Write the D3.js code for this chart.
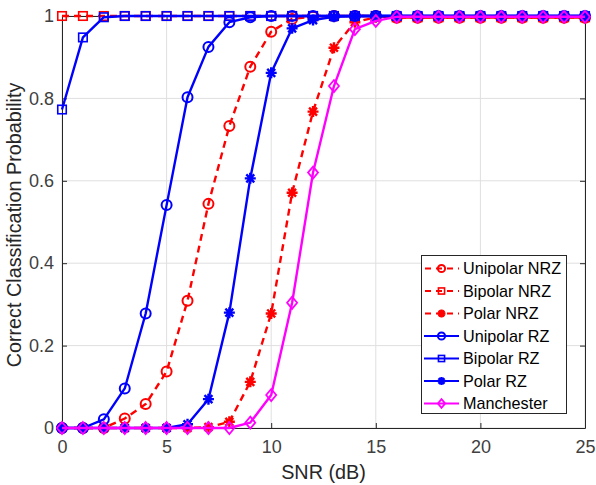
<!DOCTYPE html>
<html><head><meta charset="utf-8">
<script src="https://cdn.jsdelivr.net/npm/d3@7"></script>
<style>body{margin:0;background:#fff}svg{display:block;font-family:"Liberation Sans",Arial,sans-serif}</style>
</head><body><svg id="c" width="596" height="485"></svg>
<script>
const snr = [0,1,2,3,4,5,6,7,8,9,10,11,12,13,14,15,16,17,18,19,20,21,22,23,24,25];
const unipolarNRZ = [0,0,0,0.023,0.058,0.137,0.309,0.544,0.733,0.877,0.962,0.993,0.998,1,1,1,0.996,0.996,0.996,0.996,0.996,0.996,0.996,0.996,0.996,0.996];
const bipolarNRZ  = [1,1,1,1,1,1,1,1,1,1,1,1,1,1,1,1,0.997,0.997,0.997,0.997,0.997,0.997,0.997,0.997,0.997,0.997];
const polarNRZ    = [0,0,0,0,0,0,0,0.002,0.015,0.112,0.278,0.571,0.768,0.923,0.985,0.997,0.996,0.996,0.996,0.996,0.996,0.996,0.996,0.996,0.996,0.996];
const unipolarRZ  = [0,0,0.021,0.096,0.278,0.541,0.803,0.925,0.985,0.997,1,1,1,1,1,1,1,1,1,1,1,1,1,1,1,1];
const bipolarRZ   = [0.773,0.948,0.997,1,1,1,1,1,1,1,1,1,1,1,1,1,1,1,1,1,1,1,1,1,1,1];
const polarRZ     = [0,0,0,0,0,0,0.009,0.07,0.28,0.606,0.862,0.970,0.99,0.998,1,1,1,1,1,1,1,1,1,1,1,1];
const manchester  = [0,0,0,0,0,0,0,0,0,0.013,0.08,0.304,0.62,0.83,0.968,0.988,0.998,0.998,0.998,0.998,0.998,0.998,0.998,0.998,0.998,0.998];
const seriesNames = ["Unipolar NRZ","Bipolar NRZ","Polar NRZ","Unipolar RZ","Bipolar RZ","Polar RZ","Manchester"];
const xTicks = [0,5,10,15,20,25];
const yTicks = [0,0.2,0.4,0.6,0.8,1];
const xLabel = "SNR (dB)";
const yLabel = "Correct Classification Probability";

const series = [
  {name:seriesNames[0], v:unipolarNRZ, color:"#ff0000", dash:"7,5", marker:"circle"},
  {name:seriesNames[1], v:bipolarNRZ,  color:"#ff0000", dash:"7,5", marker:"square"},
  {name:seriesNames[2], v:polarNRZ,    color:"#ff0000", dash:"7,5", marker:"star"},
  {name:seriesNames[3], v:unipolarRZ,  color:"#0000ff", dash:null, marker:"circle"},
  {name:seriesNames[4], v:bipolarRZ,   color:"#0000ff", dash:null, marker:"square"},
  {name:seriesNames[5], v:polarRZ,     color:"#0000ff", dash:null, marker:"star"},
  {name:seriesNames[6], v:manchester,  color:"#ff00ff", dash:null, marker:"diamond"}
];

const L=62,R=585,T=16,B=428;
const svg=d3.select("#c");
const x=d3.scaleLinear().domain([0,25]).range([L,R]);
const y=d3.scaleLinear().domain([0,1]).range([B,T]);
const axisColor="#262626", tickText="#404040";

// grid
const g=svg.append("g");
g.selectAll(".gx").data(xTicks).enter().append("line")
 .attr("x1",d=>x(d)).attr("x2",d=>x(d)).attr("y1",T).attr("y2",B)
 .attr("stroke","#dfdfdf").attr("stroke-width",1);
g.selectAll(".gy").data(yTicks).enter().append("line")
 .attr("y1",d=>y(d)).attr("y2",d=>y(d)).attr("x1",L).attr("x2",R)
 .attr("stroke","#dfdfdf").attr("stroke-width",1);

// axes
const ax=svg.append("g").attr("transform",`translate(0,${B})`)
 .call(d3.axisBottom(x).tickValues(xTicks).tickSizeInner(-5).tickSizeOuter(0).tickPadding(12).tickFormat(d3.format("d")));
const ay=svg.append("g").attr("transform",`translate(${L},0)`)
 .call(d3.axisLeft(y).tickValues(yTicks).tickSizeInner(-5).tickSizeOuter(0).tickPadding(8).tickFormat(d=>String(d)));
const axT=svg.append("g").attr("transform",`translate(0,${T})`)
 .call(d3.axisTop(x).tickValues(xTicks).tickSizeInner(-5).tickSizeOuter(0).tickFormat(""));
const ayR=svg.append("g").attr("transform",`translate(${R},0)`)
 .call(d3.axisRight(y).tickValues(yTicks).tickSizeInner(-5).tickSizeOuter(0).tickFormat(""));
[ax,ay,axT,ayR].forEach(a=>{
  a.select(".domain").attr("stroke",axisColor).attr("stroke-width",1);
  a.selectAll(".tick line").attr("stroke",axisColor);
  a.selectAll(".tick text").attr("fill",tickText).style("font-size","18px").style("font-family","'Liberation Sans',Arial,sans-serif");
});

svg.append("text").attr("x",(L+R)/2).attr("y",479).attr("text-anchor","middle")
 .style("font-size","19.8px").attr("fill","#262626").text(xLabel);
svg.append("text").attr("transform",`translate(21,${(T+B)/2+3}) rotate(-90)`).attr("text-anchor","middle")
 .style("font-size","19.8px").attr("fill","#262626").text(yLabel);

function drawMarker(sel,type,color,s){
  if(type==="circle") sel.append("circle").attr("r",s).attr("fill","none").attr("stroke",color).attr("stroke-width",2);
  else if(type==="square") sel.append("rect").attr("x",-s*0.85).attr("y",-s*0.85).attr("width",s*1.7).attr("height",s*1.7).attr("fill","none").attr("stroke",color).attr("stroke-width",1.6);
  else if(type==="diamond") sel.append("path").attr("d",`M0,${-s*1.2}L${s},0L0,${s*1.2}L${-s},0Z`).attr("fill","none").attr("stroke",color).attr("stroke-width",1.8);
  else if(type==="star"){
    const r=s*1.1,d=r*0.72;
    sel.append("path").attr("d",`M${-r},0L${r},0M0,${-r}L0,${r}M${-d},${-d}L${d},${d}M${-d},${d}L${d},${-d}`)
      .attr("stroke",color).attr("stroke-width",2.4).attr("fill","none");
  }
}

const line=d3.line().x((d,i)=>x(snr[i])).y(d=>y(d));
const plot=svg.append("g");
series.forEach(s=>{
  const sg=plot.append("g");
  sg.append("path").datum(s.v).attr("d",line).attr("fill","none").attr("stroke",s.color)
    .attr("stroke-width",2.4).attr("stroke-dasharray",s.dash).attr("stroke-linejoin","round");
  s.v.forEach((v,i)=>{
    const m=sg.append("g").attr("transform",`translate(${x(snr[i])},${y(v)})`);
    drawMarker(m,s.marker,s.color,5);
  });
});

// legend
const lg=svg.append("g");
lg.append("rect").attr("x",421.5).attr("y",255.5).attr("width",145).attr("height",158)
  .attr("fill","#fff").attr("stroke","#262626").attr("stroke-width",1);
series.forEach((s,i)=>{
  const yy=268.5+i*22.5;
  lg.append("line").attr("x1",424).attr("x2",459).attr("y1",yy).attr("y2",yy)
    .attr("stroke",s.color).attr("stroke-width",2).attr("stroke-dasharray",s.dash?"6,5":null)
    .attr("stroke-dashoffset",s.dash?-1:0);
  const m=lg.append("g").attr("transform",`translate(441.5,${yy})`);
  drawMarker(m,s.marker,s.color,3.6);
  lg.append("text").attr("x",463).attr("y",yy).attr("dy","0.36em").style("font-size","16.2px")
    .attr("fill","#000").text(s.name);
});
</script></body></html>
